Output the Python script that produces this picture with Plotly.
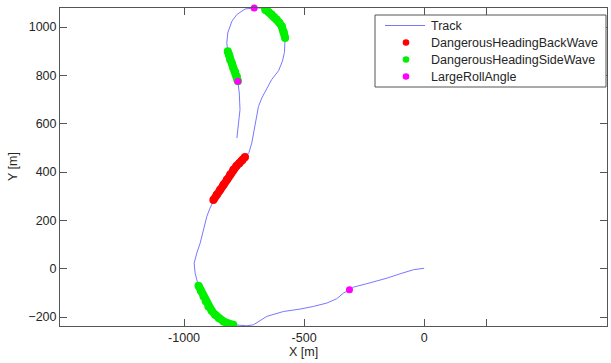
import plotly.graph_objects as go

# Track (X, Y) in metres
track_x = [0, -44, -100, -155, -239, -294, -311, -336, -364, -405, -461, -517, -586, -655, -711, -739,
           -795, -836, -871, -899, -919, -940,
           -947, -954, -958, -947, -933, -919, -905, -892, -878,
           -864, -843, -822, -795, -770, -746,
           -730, -718, -708, -700, -690, -676, -655, -635, -606, -590, -582, -579,
           -579, -593, -614, -635, -662,
           -683, -708, -746, -780, -801, -818, -822,
           -818, -808, -795, -780, -776,
           -770, -767, -774, -780]
track_y = [2, -4, -21, -39, -62, -76, -87, -101, -124, -142, -156, -167, -177, -197, -232, -236,
           -232, -218, -190, -156, -115, -70,
           -46, -18, 23, 65, 106, 161, 217, 251, 282,
           306, 337, 368, 410, 437, 462,
           480, 520, 575, 631, 672, 707, 748, 783, 820, 860, 895, 925,
           955, 1003, 1031, 1052, 1072,
           1079, 1079, 1075, 1052, 1024, 976, 934,
           900, 865, 831, 796, 776,
           727, 658, 589, 541]

# DangerousHeadingBackWave
back_x = [-878, -864, -850, -836, -822, -808, -795, -782, -770, -758, -746]
back_y = [284, 306, 327, 348, 368, 390, 410, 425, 437, 449, 462]

# DangerousHeadingSideWave (three separate runs, joined with None)
side_x = [-940, -930, -919, -910, -899, -885, -871, -855, -836, -815, -795, None,
          -818, -812, -808, -800, -795, -787, -780, -776, None,
          -579, -585, -593, -603, -614, -625, -635, -648, -662]
side_y = [-70, -92, -115, -135, -156, -174, -190, -205, -218, -227, -232, None,
          900, 883, 865, 848, 831, 814, 796, 776, None,
          955, 980, 1003, 1018, 1031, 1042, 1052, 1062, 1072]

# LargeRollAngle
roll_x = [-708, -776, -311]
roll_y = [1079, 776, -87]

legend_names = ["Track", "DangerousHeadingBackWave", "DangerousHeadingSideWave", "LargeRollAngle"]

FONT = "Liberation Sans, Arial, sans-serif"
TXT = "#262626"
AX = "#555555"
TRACK_C = "#7878ff"
RED = "#ff0000"
GREEN = "#00f000"
MAG = "#ff00ff"

fig = go.Figure()
fig.add_trace(go.Scatter(x=track_x, y=track_y, mode="lines", name=legend_names[0],
                         line=dict(color=TRACK_C, width=1)))
fig.add_trace(go.Scatter(x=back_x, y=back_y, mode="lines", hoverinfo="skip",
                         line=dict(color=RED, width=8)))
fig.add_trace(go.Scatter(x=back_x, y=back_y, mode="markers", name=legend_names[1],
                         marker=dict(color=RED, size=8)))
fig.add_trace(go.Scatter(x=side_x, y=side_y, mode="lines", hoverinfo="skip",
                         line=dict(color=GREEN, width=8)))
fig.add_trace(go.Scatter(x=side_x, y=side_y, mode="markers", name=legend_names[2],
                         marker=dict(color=GREEN, size=8)))
fig.add_trace(go.Scatter(x=roll_x, y=roll_y, mode="markers", name=legend_names[3],
                         marker=dict(color=MAG, size=7), cliponaxis=False))

# ---- manual legend (pixel layout converted to paper coords) ----
L, R, T, B = 60, 607, 8, 326
def px(xp):
    return (xp - L) / (R - L)
def py(yp):
    return (B - yp) / (B - T)

shapes = [
    dict(type="rect", xref="paper", yref="paper", x0=px(375), x1=px(606), y0=py(87), y1=py(15),
         line=dict(color=AX, width=1), fillcolor="white", layer="above"),
    dict(type="line", xref="paper", yref="paper", x0=px(385), x1=px(425), y0=py(25.5), y1=py(25.5),
         line=dict(color=TRACK_C, width=1), layer="above"),
]
dot_colors = [RED, GREEN, MAG]
dot_y = [42.5, 59.5, 76.5]
for c, yy in zip(dot_colors, dot_y):
    shapes.append(dict(type="circle", xref="paper", yref="paper", xsizemode="pixel", ysizemode="pixel",
                       xanchor=px(406), yanchor=py(yy), x0=-3.3, x1=3.3, y0=-3.3, y1=3.3,
                       fillcolor=c, line=dict(width=0), layer="above"))

annotations = [
    dict(text="X [m]", xref="paper", yref="paper", x=px(303), y=py(352),
         xanchor="center", yanchor="middle", showarrow=False,
         font=dict(family=FONT, size=12.5, color=TXT)),
    dict(text="Y [m]", xref="paper", yref="paper", x=px(13), y=py(167),
         xanchor="center", yanchor="middle", textangle=-90, showarrow=False,
         font=dict(family=FONT, size=12.5, color=TXT)),
]
for name, yy in zip(legend_names, [25.5] + dot_y):
    annotations.append(dict(text=name, xref="paper", yref="paper", x=px(429), y=py(yy),
                            xanchor="left", yanchor="middle", showarrow=False,
                            font=dict(family=FONT, size=12.5, color=TXT)))

fig.update_layout(
    width=611, height=363,
    margin=dict(l=L, r=611 - R, t=T, b=363 - B),
    paper_bgcolor="white", plot_bgcolor="white",
    font=dict(family=FONT, size=12.5, color=TXT),
    showlegend=False,
    xaxis=dict(range=[-1517, 762], tickvals=[-1000, -500, 0, 258],
               ticktext=["-1000", "-500", "0", ""],
               ticks="inside", ticklen=7, tickcolor=AX, showgrid=False, zeroline=False,
               showline=True, linecolor=AX, linewidth=1, mirror="ticks"),
    yaxis=dict(range=[-237, 1079], tickvals=[-200, 0, 200, 400, 600, 800, 1000],
               ticks="inside", ticklen=7, tickcolor=AX, showgrid=False, zeroline=False,
               showline=True, linecolor=AX, linewidth=1, mirror="ticks"),
    shapes=shapes,
    annotations=annotations,
)

fig.write_html("out.html", config={"displayModeBar": False},
               post_script="document.body.style.margin='0px';")
